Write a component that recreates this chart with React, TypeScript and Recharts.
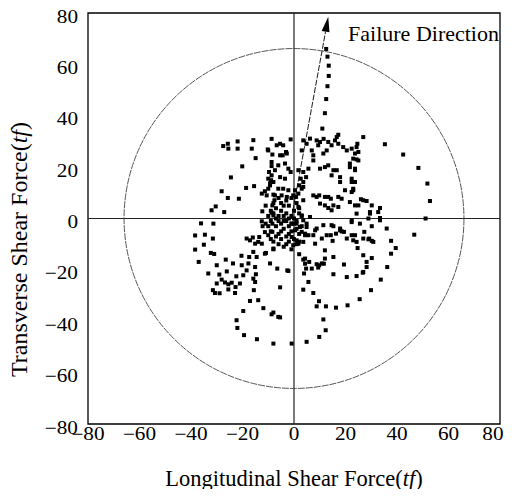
import {
  Label,
  ReferenceArea,
  ReferenceDot,
  ReferenceLine,
  Scatter,
  ScatterChart,
  XAxis,
  YAxis,
} from 'recharts';

// axis range and ticks (tf)
const AXIS_MIN = -80;
const AXIS_MAX = 80;
const AXIS_TICKS = [-80, -60, -40, -20, 0, 20, 40, 60, 80];

// limit circle and failure direction arrow
const LIMIT_RADIUS = 66;
const ARROW_START = { x: -1, y: 0 };
const ARROW_TIP = { x: 13.3, y: 78.5 };
const ARROW_TEXT_AT = { x: 21, y: 72 };

// [longitudinal, transverse] shear force pairs
const failureTrail = [
  [12.5, 66], [13, 63], [13.5, 59.5], [13.5, 55.5], [13, 51.5], [12.5, 46.5],
  [12, 41], [11, 35], [11.5, 31], [17.2, 32.6],
];

const upperLeft = [
  [-27.5, 28.2], [-25.7, 29.1], [-25.5, 27.2], [-21.9, 30], [-21.9, 27.2], [-15.8, 30.5],
  [-16.4, 27.2], [-14.9, 23.5], [-8.7, 31], [-10.2, 26.9], [-8.4, 24.9], [-20.1, 20.3],
  [-24.5, 16], [-8.7, 20.4], [-9.7, 18.1], [-10, 15.5], [-8.9, 14.9], [-9.3, 13.7],
  [-18.6, 11.9], [-15.5, 12.6], [-28.1, 10.6], [-12.5, 9.7], [-11.3, 10.6], [-10, 11.6],
  [-30.4, 4.7], [-32, 3.2], [-27.1, 2.5], [-12.3, 2.8], [-8.7, 2.3], [-8, 1.2],
  [-25.7, 8], [-21.4, 7.7], [-10.6, 9], [-8, 9.3], [-7.6, 7.1], [-8.4, 5.1],
];

const upperCenter = [
  [-6.7, 28.5], [-5.4, 29.1], [-4.2, 28.5], [-3.1, 25.9], [-4.4, 24.6], [-2.8, 25.3],
  [-1.3, 30.8], [-10, 26.5], [-5.4, 24.6], [-8.7, 22], [-6.1, 20.7], [-3.5, 21.4],
  [-2.2, 19.4], [-1.3, 18.1], [-7.4, 18.8], [-8.7, 16.8], [-5.4, 16.1], [-3.5, 15.5],
  [-8, 14.2], [-9.3, 12.9], [-6.1, 11.6], [-4.2, 11.6], [-2.2, 11], [-7.4, 9],
  [-4.8, 9], [-2.8, 8.4], [0.4, 11], [-0.3, 9], [0.8, 8.4], [1.7, 9.7],
  [2, 12.9], [3, 11.6], [3.6, 12.3], [2.6, 15.5], [3.6, 14.2], [4.7, 16.1],
  [1.7, 18.8], [3.6, 18.1], [5.6, 19.4], [3, 26.5], [3.6, 30.4], [4.9, 29.1],
  [6.2, 31.1], [6.9, 26.5], [7.5, 24.6], [8.8, 30.4], [9.4, 28.5], [10.1, 29.8],
  [3.6, 7.1], [1.7, 4.5], [3, 1.2], [6.2, 0.6],
];

const upperRight = [
  [13.3, 29.8], [14.6, 28.5], [15.9, 30.4], [17.2, 29.1], [16.6, 31.7], [19.1, 27.8],
  [20.5, 26.5], [22.4, 27.2], [23.7, 25.3], [23, 23.3], [24.6, 29.1], [11.4, 25.3],
  [12.7, 26.5], [7.5, 22.6], [10.1, 19.4], [12, 20], [15.3, 18.8], [14.6, 16.8],
  [16.6, 18.8], [17.9, 16.1], [17.9, 14.2], [13.3, 20.7], [21.7, 20], [23.7, 18.8],
  [22.4, 15.5], [23.7, 14.2], [19.8, 11], [23, 11.6], [7.5, 9], [8.8, 8.4],
  [9.8, 9], [12, 8.4], [13.3, 8.4], [14.3, 7.7], [17.2, 8.4], [18.5, 7.7],
  [10.1, 5.8], [12, 5.1], [13.3, 4.1], [15.3, 5.1], [17.2, 4.5], [21.7, 6.4],
  [23.7, 5.1], [14.6, 3.2], [26.9, 31.7], [35.3, 28.9], [42.4, 24.9], [48.3, 19.7],
  [51.8, 13.6], [52.8, 6.8], [51.1, 0], [33.4, 4.1], [32.7, 2.5], [29.5, 2.5],
  [28.2, 6.8], [26.9, 7.1], [30.2, 5.1], [24.3, 27.8], [25, 25.9], [24.3, 23],
  [25, 22.6], [23.7, 19.4], [22.4, 14.2], [23, 11], [22.4, 10.3], [21.7, 21.4],
  [26, 7.5], [29.5, 1.9], [33.4, 0.2], [33.4, -0.7], [25, 5.1], [24.3, 1.9],
];

const lowerRight = [
  [28.9, 0], [30.2, -3], [36, -3.9], [25.6, -2], [22.4, -0.7], [15.3, -3],
  [17.9, -3.9], [46.7, -6.3], [27.3, -5.2], [23.7, -6.5], [26.9, -7.8], [28.9, -8.1],
  [30.8, -9.1], [24.7, -11.5], [37.7, -8.7], [39.5, -11.5], [37.7, -13.7], [26.9, -14.3],
  [30.2, -15.4], [28.2, -16.9], [28.2, -18.9], [36.2, -18.9], [26.9, -20.8], [24.3, -22.4],
  [33.7, -23.8], [29.9, -27.9], [25.5, -31.4], [20.8, -33.8], [16.3, -34.7], [12.4, -34.2],
  [8.8, -34.2], [9.7, -32.2], [7.5, -29], [3.6, -27.7], [5.6, -24.7], [3.9, -21.4],
  [4.7, -19.5], [6.9, -19.5], [9.4, -19.1], [3.6, -16], [5.9, -16.9], [8.8, -17.8],
  [10.8, -17.5], [2, -13.9], [4.3, -15.6], [12, -12.4], [12, -15.6], [15.3, -15],
  [19.4, -17.9], [15.3, -21.7], [20.5, -22.8], [26.7, -21.1], [11.4, -39.3], [12.3, -43.5],
  [9.8, -46.1], [4.9, -48], [8.2, -9.8], [15, -8.7], [10.8, -7.8], [12.7, -6.5],
  [14.3, -6.5], [16.3, -5.9], [17.9, -4.6], [19.4, -5.2], [20.5, -7.8], [22.4, -6.5],
  [23, -8.5], [24.3, -9.1], [29.2, -7.8], [30.2, -8.7], [22.4, -1.4], [11.4, -2.6],
  [8.2, -4.6], [7.5, -6.5], [8.8, -3.9], [4.9, -2], [3.6, -0.7], [18.5, -5],
  [14.6, -2.6], [9.8, -18.2], [11.6, -17.6], [4.3, -17.6], [4.3, -6.5],
];

const lowerLeft = [
  [-36.1, -1.9], [-31.3, -2], [-12.5, -1.1], [-8.4, -2], [-8.4, -5.2], [-34.6, -6.3],
  [-38.4, -6.6], [-31.5, -7.8], [-35, -10.2], [-38.4, -12.1], [-32.3, -13.4], [-31, -13.8],
  [-37, -16.9], [-33.3, -21.4], [-30, -18.2], [-26.5, -16], [-23.7, -17.5], [-26.1, -20.6],
  [-29, -21.8], [-28.1, -23.8], [-26.8, -24.9], [-25.5, -25.6], [-24.2, -25], [-30, -25.3],
  [-31.5, -27.9], [-30.7, -29], [-28.9, -29.1], [-25.5, -27.6], [-22.7, -26.7], [-22.9, -29],
  [-21, -25.3], [-22.4, -22.5], [-19.7, -22.1], [-18.4, -20.2], [-20.3, -18.2], [-17.7, -17.5],
  [-17.4, -15], [-20.4, -14.5], [-15.8, -13], [-17.1, -8.5], [-16, -7.4], [-15.1, -9.8],
  [-13.9, -9.1], [-13.5, -7.2], [-12.5, -9.8], [-10.9, -13.4], [-10, -6.5], [-12.2, -3],
  [-8, -11.7], [-9.3, -17.5], [-6.5, -19.5], [-2.2, -20.4], [-5.4, -26.8], [-15.6, -27.9],
  [-13.9, -31.8], [-17.1, -32.1], [-11.9, -34.9], [-8.7, -37.3], [-8, -36.6], [-6.1, -38.3],
  [-5.4, -38.5], [-19.7, -36], [-22.3, -39.6], [-22, -42.6], [-19.4, -45.4], [-14.4, -47],
  [-8, -48.7], [-0.9, -48.7], [-15.1, -24.7], [-14.8, -21.7], [-15.1, -18.9], [-18.4, -7.8],
  [-14.5, -15], [-11.3, -13.7], [-11.3, -5.3], [-15.8, -23.4], [-2.6, -20.2],
];

const originCluster = [
  [-9, -1], [-8, 2], [-7, 4], [-6, 1], [-5, 3], [-4, -1], [-3, 2], [-2, 5], [-1, 1], [0, 3],
  [1, -1], [2, 2], [-10, -3], [-9, -5], [-7, -3], [-6, -6], [-5, -8], [-4, -4], [-3, -7],
  [-2, -3], [-1, -5], [0, -2], [1, -4], [2, -6], [-8, -9], [-6, -10], [-4, -11], [-2, -9],
  [0, -8], [-1, -12], [-7, -7], [-3, -10], [-5, 6], [-3, 7], [-1, 8], [-8, 6], [-6, 8],
  [-4, 5], [-2, 0], [-9, 3], [-10, 1], [-11, -2], [-8, -12], [1, 6], [2, 4], [3, 1],
  [3, -3], [-5, -2], [-7, 0], [-6, -1], [-4, 1], [-2, -6], [0, 0], [-3, -1], [-1, -2],
  [-5, -5], [2, -9], [-9, -8], [1, -10], [-11, 5], [-0.9, -2], [1, -2], [2.3, -3.3],
  [0.4, -4.6], [3, -5.2], [4.3, -5.9], [-0.9, -7.2], [1, -8.5], [-0.3, -10.4], [1.7, -9.8],
  [3.6, -9.1], [5.6, -6.5], [4.9, -3.3],
];

const SERIES = [failureTrail, upperLeft, upperCenter, upperRight, lowerRight, lowerLeft, originCluster];
const points = SERIES.flat().map(([x, y]) => ({ x, y }));

const CHART_W = 512;
const CHART_H = 497;
const MARGIN = { top: 13, right: 12, bottom: 0, left: 0 };
const Y_AXIS_W = 88;
const X_AXIS_H = 73;
const PLOT_W = CHART_W - MARGIN.left - MARGIN.right - Y_AXIS_W;
const PX_PER_UNIT = PLOT_W / (AXIS_MAX - AXIS_MIN);

const FONT = '"Liberation Serif", "Times New Roman", serif';
const TICK_SIZE = 18;
const TICK_STRETCH = 1.18; // the scanned tick digits are wide and squat

const fmt = (v: number) => (v < 0 ? `\u2212${Math.abs(v)}` : `${v}`);

const Square = (props: any) => (
  <rect x={props.cx - 2} y={props.cy - 2} width={4} height={4} fill="#000" />
);

const LimitCircle = (props: any) => (
  <circle
    cx={props.cx}
    cy={props.cy}
    r={LIMIT_RADIUS * PX_PER_UNIT}
    fill="none"
    stroke="#444"
    strokeWidth={0.9}
    strokeDasharray="7 1"
  />
);

const Arrow = (props: any) => {
  const { x1, y1, x2, y2 } = props;
  const ang = Math.atan2(y2 - y1, x2 - x1);
  const len = 15;
  const half = 4;
  const bx = x2 - len * Math.cos(ang);
  const by = y2 - len * Math.sin(ang);
  const nx = -Math.sin(ang) * half;
  const ny = Math.cos(ang) * half;
  return (
    <g>
      <line x1={x1} y1={y1} x2={bx} y2={by} stroke="#000" strokeWidth={0.9} strokeDasharray="6 1.5" />
      <polygon points={`${x2},${y2} ${bx + nx},${by + ny} ${bx - nx},${by - ny}`} fill="#000" />
    </g>
  );
};

const ArrowText = (props: any) => (
  <text x={props.cx} y={props.cy} dy="0.35em" fontFamily={FONT} fontSize={22} fill="#000">
    Failure Direction
  </text>
);

const Tick = (props: any) => {
  const { x, y, payload, vertical } = props;
  // keep the right-most x label inside the page
  const last = !vertical && payload.value === AXIS_MAX;
  const anchor = vertical || last ? 'end' : 'middle';
  const tx = last ? x + 3.5 : x;
  return (
    <text
      transform={`translate(${tx} ${y}) scale(${TICK_STRETCH} 1)`}
      dy={vertical ? '0.53em' : '0.71em'}
      textAnchor={anchor}
      fontFamily={FONT}
      fontSize={TICK_SIZE}
      fill="#000"
    >
      {fmt(payload.value)}
    </text>
  );
};

const YTitle = (props: any) => {
  const vb = props.viewBox;
  const cx = vb.x + 27;
  const cy = vb.y + vb.height / 2 + 31;
  return (
    <text
      x={cx}
      y={cy}
      transform={`rotate(-90 ${cx} ${cy})`}
      textAnchor="middle"
      fontFamily={FONT}
      fontSize={24}
      fill="#000"
    >
      Transverse Shear Force(<tspan fontStyle="italic">tf</tspan>)
    </text>
  );
};

const XTitle = (props: any) => {
  const vb = props.viewBox;
  return (
    <text
      x={vb.x + vb.width / 2}
      y={vb.y + 62}
      textAnchor="middle"
      fontFamily={FONT}
      fontSize={22.5}
      fill="#000"
    >
      Longitudinal Shear Force(<tspan fontStyle="italic">tf</tspan>)
    </text>
  );
};

export default function App() {
  return (
    <div style={{ margin: -8, width: CHART_W, height: CHART_H, overflow: 'hidden', background: '#fff' }}>
      <ScatterChart width={CHART_W} height={CHART_H} margin={MARGIN}>
        <XAxis
          type="number"
          dataKey="x"
          domain={[AXIS_MIN, AXIS_MAX]}
          ticks={AXIS_TICKS}
          allowDataOverflow
          axisLine={false}
          tickLine={false}
          tickSize={0}
          tickMargin={3}
          height={X_AXIS_H}
          tick={<Tick vertical={false} />}
        >
          <Label content={XTitle} />
        </XAxis>
        <YAxis
          type="number"
          dataKey="y"
          domain={[AXIS_MIN, AXIS_MAX]}
          ticks={AXIS_TICKS}
          allowDataOverflow
          axisLine={false}
          tickLine={false}
          tickSize={0}
          tickMargin={10}
          width={Y_AXIS_W}
          tick={<Tick vertical />}
        >
          <Label content={YTitle} />
        </YAxis>
        <ReferenceArea
          x1={AXIS_MIN}
          x2={AXIS_MAX}
          y1={AXIS_MIN}
          y2={AXIS_MAX}
          fill="none"
          fillOpacity={0}
          stroke="#000"
          strokeWidth={1.3}
        />
        <ReferenceDot x={0} y={0} r={0} shape={LimitCircle} />
        <ReferenceLine x={0} stroke="#222" strokeWidth={1.2} />
        <ReferenceLine y={0} stroke="#222" strokeWidth={1.2} />
        <Scatter data={points} shape={Square} isAnimationActive={false} />
        <ReferenceLine segment={[ARROW_START, ARROW_TIP]} shape={Arrow} />
        <ReferenceDot x={ARROW_TEXT_AT.x} y={ARROW_TEXT_AT.y} r={0} shape={ArrowText} />
      </ScatterChart>
    </div>
  );
}
